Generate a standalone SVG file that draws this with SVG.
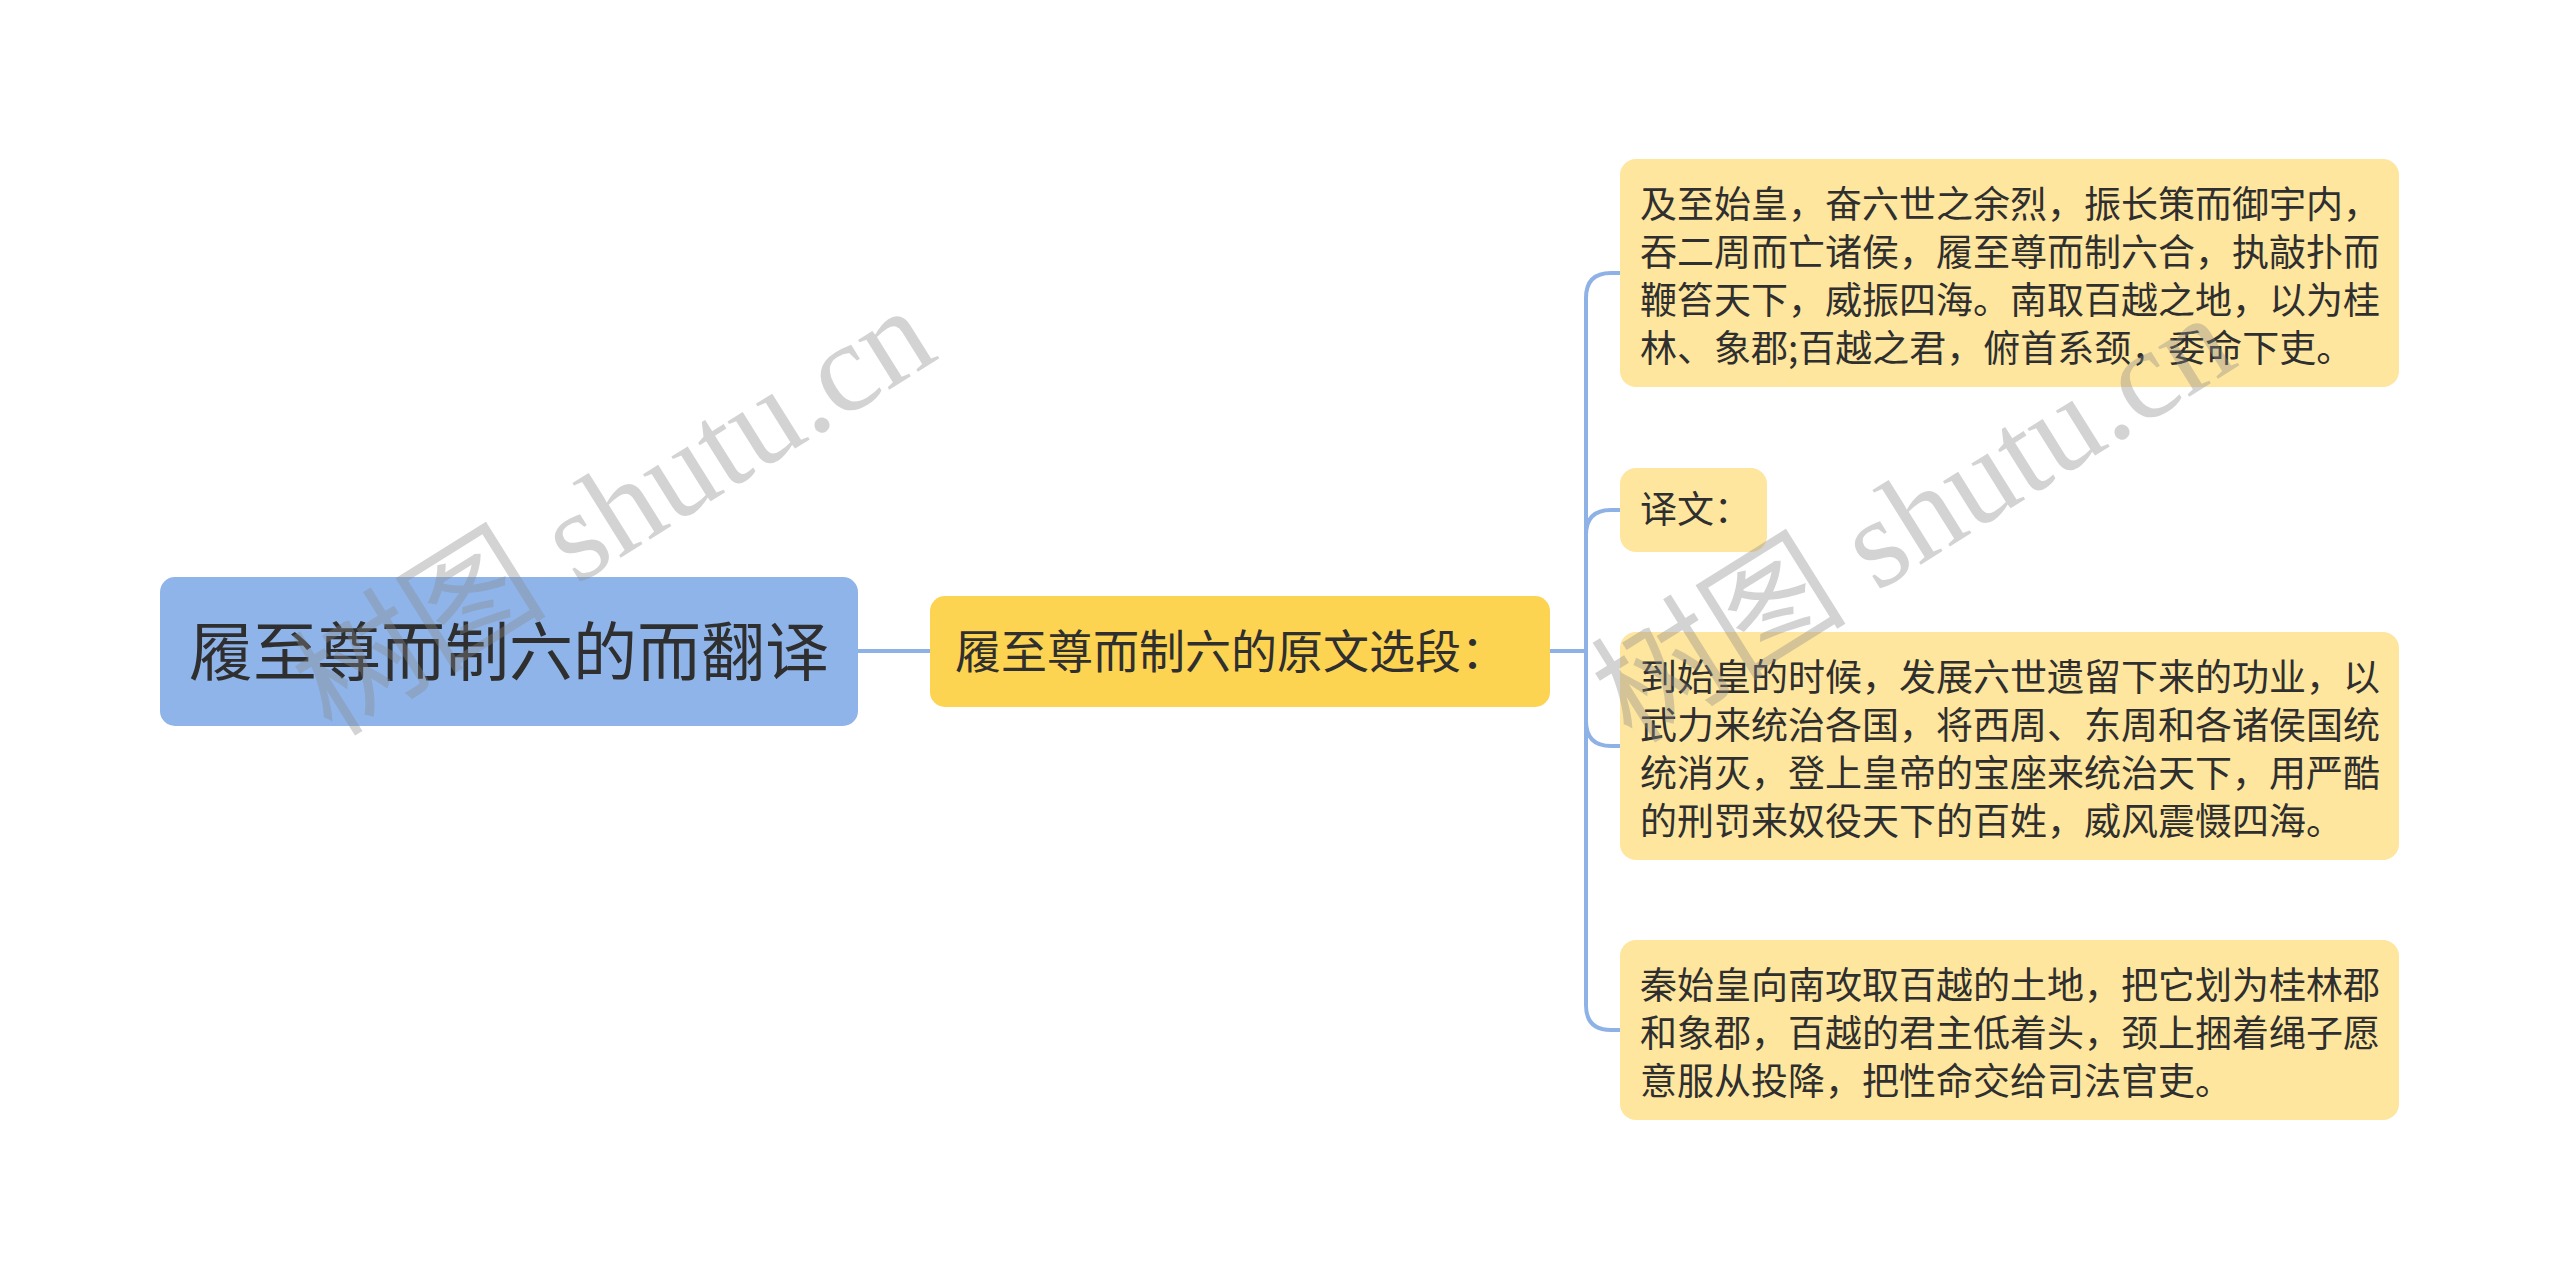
<svg xmlns="http://www.w3.org/2000/svg" width="2560" height="1280" viewBox="0 0 2560 1280">
<style>
.cjk{font-family:"Noto Sans CJK SC","Noto Sans",sans-serif;fill:#2f2f2f}
.root{fill:#8fb4ea}
.mid{fill:#fdd352}
.leaf{fill:#fee69e}
.leaft{font-size:37px}
.conn{fill:none;stroke:#8fb2e6;stroke-width:4}
.wm{font-family:"Liberation Serif","Noto Sans CJK SC",serif;font-size:128px;fill:#888;opacity:0.36}
</style>
<rect width="2560" height="1280" fill="#ffffff"/>
<g id="connectors">
<path class="conn" d="M858,651 H930"/>
<path class="conn" d="M1550,651 H1586 V298 Q1586,273 1611,273 H1622"/>
<path class="conn" d="M1550,651 H1586 V535 Q1586,510 1611,510 H1622"/>
<path class="conn" d="M1550,651 H1586 V721 Q1586,746 1611,746 H1622"/>
<path class="conn" d="M1550,651 H1586 V1005 Q1586,1030 1611,1030 H1622"/>
</g>
<g id="root">
<rect class="root" x="160" y="577" width="698" height="149" rx="15"/>
<text class="cjk" x="509" y="675" font-size="64" text-anchor="middle">履至尊而制六的而翻译</text>
</g>
<g id="mid">
<rect class="mid" x="930" y="596" width="620" height="111" rx="15"/>
<text class="cjk" x="955" y="668" font-size="46">履至尊而制六的原文选段：</text>
</g>
<g id="n1">
<rect class="leaf" x="1620" y="159" width="779" height="228" rx="16"/>
<text class="cjk leaft"><tspan x="1640" y="218">及至始皇，奋六世之余烈，振长策而御宇内，</tspan><tspan x="1640" y="266">吞二周而亡诸侯，履至尊而制六合，执敲扑而</tspan><tspan x="1640" y="314">鞭笞天下，威振四海。南取百越之地，以为桂</tspan><tspan x="1640" y="362">林、象郡;百越之君，俯首系颈，委命下吏。</tspan></text>
</g>
<g id="n2">
<rect class="leaf" x="1620" y="468" width="147" height="84" rx="16"/>
<text class="cjk leaft" x="1640" y="523">译文：</text>
</g>
<g id="n3">
<rect class="leaf" x="1620" y="632" width="779" height="228" rx="16"/>
<text class="cjk leaft"><tspan x="1640" y="691">到始皇的时候，发展六世遗留下来的功业，以</tspan><tspan x="1640" y="739">武力来统治各国，将西周、东周和各诸侯国统</tspan><tspan x="1640" y="787">统消灭，登上皇帝的宝座来统治天下，用严酷</tspan><tspan x="1640" y="835">的刑罚来奴役天下的百姓，威风震慑四海。</tspan></text>
</g>
<g id="n4">
<rect class="leaf" x="1620" y="940" width="779" height="180" rx="16"/>
<text class="cjk leaft"><tspan x="1640" y="999">秦始皇向南攻取百越的土地，把它划为桂林郡</tspan><tspan x="1640" y="1047">和象郡，百越的君主低着头，颈上捆着绳子愿</tspan><tspan x="1640" y="1095">意服从投降，把性命交给司法官吏。</tspan></text>
</g>
<g id="watermark">
<text class="wm" transform="translate(332,738) rotate(-32)">树图 shutu.cn</text>
<text class="wm" transform="translate(1632,745) rotate(-32)">树图 shutu.cn</text>
</g>
</svg>
